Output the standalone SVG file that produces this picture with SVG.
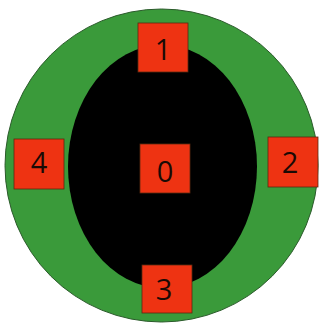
<svg xmlns="http://www.w3.org/2000/svg" width="321" height="324" viewBox="0 0 321 324">
<style>
.box{fill:#ee3312;stroke:#5a2a10;stroke-width:0.8}
.lbl{font-family:"Open Sans","Liberation Sans",sans-serif;font-size:29px;fill:#1a0a05;text-anchor:middle}
</style>
<rect width="321" height="324" fill="#ffffff"/>
<g id="outer"><circle cx="161.5" cy="165.5" r="156.5" fill="#3a9a3a" stroke="#2a5a2a" stroke-width="1"/></g>
<g id="inner"><ellipse cx="162.5" cy="166.5" rx="94.5" ry="121.5" fill="#000000"/></g>
<g id="connectors"></g>
<g id="n1"><rect class="box" x="138" y="23" width="50" height="49"/><text class="lbl" x="163" y="60">1</text></g>
<g id="n4"><rect class="box" x="14" y="139" width="50" height="50"/><text class="lbl" x="39" y="173">4</text></g>
<g id="n2"><rect class="box" x="268" y="137" width="50" height="50"/><text class="lbl" x="290" y="173">2</text></g>
<g id="n0"><rect class="box" x="140" y="144" width="50" height="49"/><text class="lbl" x="165" y="182">0</text></g>
<g id="n3"><rect class="box" x="142" y="265" width="50" height="48"/><text class="lbl" x="164" y="300">3</text></g>
</svg>
